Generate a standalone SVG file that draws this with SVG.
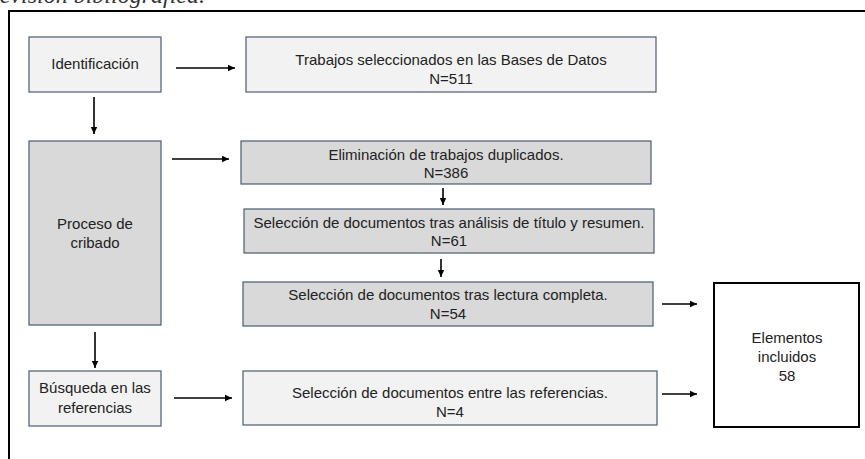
<svg xmlns="http://www.w3.org/2000/svg" width="865" height="459" viewBox="0 0 865 459">
<defs>
<style>
.box{stroke:#4a5a72;stroke-width:1.2}
.light{fill:#f2f2f2}
.gray{fill:#d9d9d9}
.t{font-family:"Liberation Sans",Arial,sans-serif;font-size:15px;fill:#222;text-anchor:middle}
.c{stroke:#000;stroke-width:1.6;fill:none;marker-end:url(#ah)}
</style>
<marker id="ah" markerUnits="userSpaceOnUse" markerWidth="8" markerHeight="8" refX="7" refY="4" orient="auto">
<path d="M0,0.8 L7,4 L0,7.2 Z" fill="#000"/>
</marker>
</defs>
<rect width="865" height="459" fill="#fff"/>
<text x="205" y="2.5" text-anchor="end" font-family="Liberation Serif,serif" font-style="italic" font-size="24" fill="#333">Revisión bibliográfica.</text>
<path d="M9,459 V11 H865" fill="none" stroke="#000" stroke-width="2"/>
<g id="connectors">
<line class="c" x1="176" y1="68" x2="235" y2="68"/>
<line class="c" x1="94" y1="97" x2="94" y2="134"/>
<line class="c" x1="172" y1="159" x2="229" y2="159"/>
<line class="c" x1="443" y1="188" x2="443" y2="205"/>
<line class="c" x1="441" y1="259" x2="441" y2="277"/>
<line class="c" x1="662" y1="304" x2="697" y2="304"/>
<line class="c" x1="95" y1="332" x2="95" y2="368"/>
<line class="c" x1="174" y1="398" x2="232" y2="398"/>
<line class="c" x1="662" y1="394" x2="697" y2="394"/>
</g>
<g id="identificacion"><rect class="box light" x="29" y="37" width="132" height="55"/><text class="t" x="95" y="69">Identificación</text></g>
<g id="trabajos"><rect class="box light" x="246" y="37" width="410" height="55"/><text class="t" x="451" y="65">Trabajos seleccionados en las Bases de Datos</text><text class="t" x="451" y="84">N=511</text></g>
<g id="proceso"><rect class="box gray" x="29" y="141" width="132" height="184"/><text class="t" x="95" y="229">Proceso de</text><text class="t" x="95" y="248">cribado</text></g>
<g id="eliminacion"><rect class="box gray" x="241" y="141" width="410" height="43"/><text class="t" x="446" y="160">Eliminación de trabajos duplicados.</text><text class="t" x="446" y="178">N=386</text></g>
<g id="titulo"><rect class="box gray" x="244" y="209" width="410" height="44"/><text class="t" x="449" y="228">Selección de documentos tras análisis de título y resumen.</text><text class="t" x="449" y="246">N=61</text></g>
<g id="lectura"><rect class="box gray" x="243" y="282" width="410" height="44"/><text class="t" x="448" y="300">Selección de documentos tras lectura completa.</text><text class="t" x="448" y="319">N=54</text></g>
<g id="busqueda"><rect class="box light" x="29" y="371" width="132" height="55"/><text class="t" x="95" y="393">Búsqueda en las</text><text class="t" x="95" y="413">referencias</text></g>
<g id="referencias"><rect class="box light" x="243" y="371" width="414" height="54"/><text class="t" x="450" y="398">Selección de documentos entre las referencias.</text><text class="t" x="450" y="417">N=4</text></g>
<g id="elementos"><rect x="714" y="283" width="145" height="144" fill="#fff" stroke="#000" stroke-width="2"/><text class="t" x="787" y="343">Elementos</text><text class="t" x="787" y="362">incluidos</text><text class="t" x="787" y="381">58</text></g>
</svg>
